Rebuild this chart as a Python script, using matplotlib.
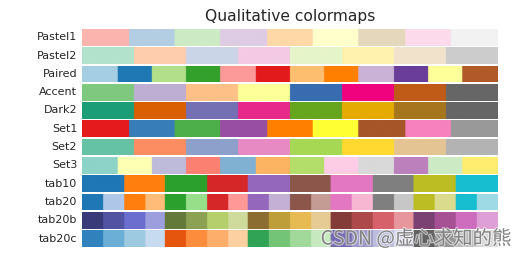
import numpy as np
import matplotlib
matplotlib.use('Agg')
import matplotlib.pyplot as plt
import matplotlib.patheffects as pe

# colormap rows, top to bottom
cmap_names = ['Pastel1', 'Pastel2', 'Paired', 'Accent', 'Dark2',
              'Set1', 'Set2', 'Set3', 'tab10', 'tab20', 'tab20b', 'tab20c']
title = 'Qualitative colormaps'
watermark = 'CSDN @虚心求知的熊'

gradient = np.linspace(0, 1, 256)
gradient = np.vstack((gradient, gradient))

fig, axs = plt.subplots(nrows=len(cmap_names), figsize=(5.27, 2.61), dpi=100)
fig.subplots_adjust(top=0.889, bottom=0.054, left=0.156, right=0.945, hspace=0.1)

for ax, name in zip(axs, cmap_names):
    ax.imshow(gradient, aspect='auto', cmap=plt.get_cmap(name))
    ax.text(-0.012, 0.5, name, va='center', ha='right', fontsize=8,
            color='#262626', transform=ax.transAxes)
    ax.set_axis_off()

fig.text(0.551, 1 - 17 / 261, title, ha='center', va='center', fontsize=11.2,
         color='#262626')

fig.text(512 / 527, 1 - 239 / 261, watermark, ha='right', va='center',
         fontsize=14, color='#7a7a7a', alpha=0.9,
         family=['Noto Sans CJK SC', 'DejaVu Sans'],
         path_effects=[pe.withStroke(linewidth=1.5, foreground='white', alpha=0.6)])

fig.savefig('out.png', dpi=100)
